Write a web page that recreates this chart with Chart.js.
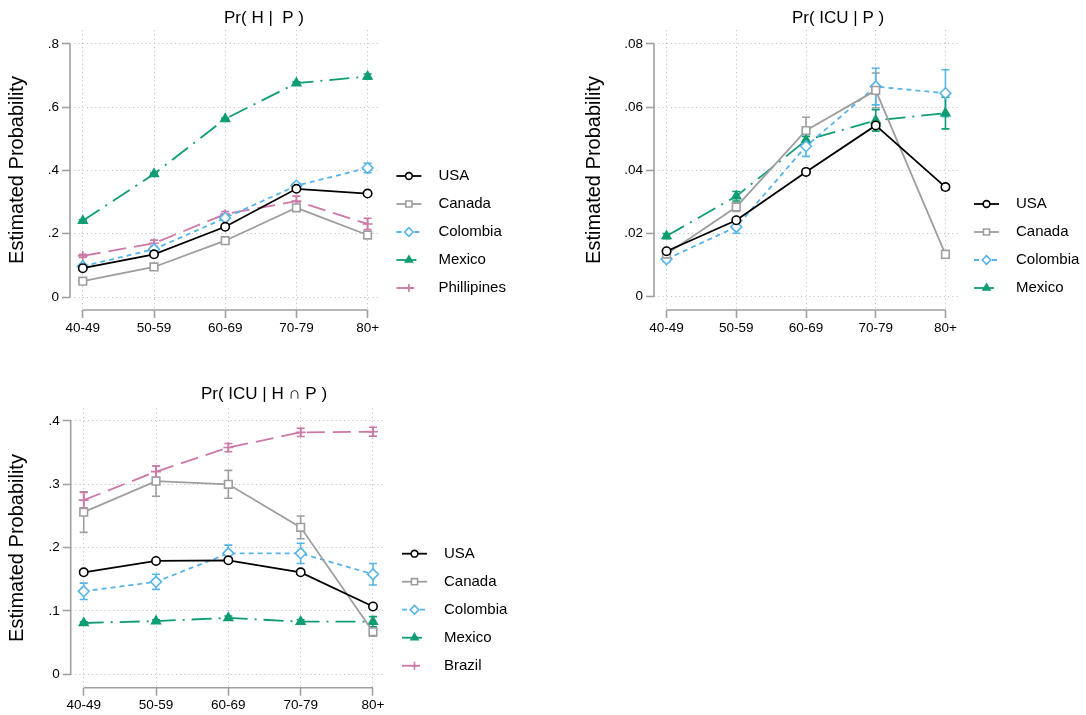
<!DOCTYPE html>
<html>
<head>
<meta charset="utf-8">
<script src="https://cdn.jsdelivr.net/npm/chart.js@4.4.1/dist/chart.umd.min.js"></script>
<style>
  html, body { margin: 0; padding: 0; background: #fff; overflow: hidden; width: 1086px; height: 715px; }
  .panel { position: absolute; }
</style>
</head>
<body>
<div class="panel" style="left:0;top:0;width:528px;height:345px"><canvas id="hpChart"></canvas></div>
<div class="panel" style="left:577px;top:0;width:522px;height:345px"><canvas id="icupChart"></canvas></div>
<div class="panel" style="left:0;top:378px;width:528px;height:337px"><canvas id="icuhpChart"></canvas></div>
<script>
const ageGroups = ['40-49', '50-59', '60-69', '70-79', '80+'];

// Pr( H | P )
const hpUSA = [0.091, 0.135, 0.222, 0.342, 0.327];
const hpUSAci = [0.003, 0.003, 0.004, 0.005, 0.005];
const hpCanada = [0.050, 0.095, 0.178, 0.282, 0.196];
const hpCanadaCi = [0.004, 0.005, 0.006, 0.008, 0.010];
const hpColombia = [0.097, 0.151, 0.250, 0.352, 0.408];
const hpColombiaCi = [0.004, 0.005, 0.008, 0.008, 0.015];
const hpMexico = [0.241, 0.389, 0.563, 0.676, 0.697];
const hpMexicoCi = [0.003, 0.003, 0.003, 0.004, 0.008];
const hpPhilippines = [0.130, 0.170, 0.262, 0.303, 0.231];
const hpPhilippinesCi = [0.005, 0.010, 0.008, 0.016, 0.018];
const hpTicks = [0, 0.2, 0.4, 0.6, 0.8];

// Pr( ICU | P )
const ipUSA = [0.0144, 0.0242, 0.0395, 0.0542, 0.0347];
const ipUSAci = [0.0005, 0.0006, 0.0006, 0.0009, 0.0008];
const ipCanada = [0.0135, 0.0284, 0.0526, 0.0653, 0.0134];
const ipCanadaCi = [0.0008, 0.0014, 0.0042, 0.0055, 0.0012];
const ipColombia = [0.0119, 0.0221, 0.0476, 0.0665, 0.0644];
const ipColombiaCi = [0.0008, 0.0020, 0.0032, 0.0058, 0.0074];
const ipMexico = [0.0192, 0.0318, 0.0495, 0.0558, 0.0581];
const ipMexicoCi = [0.0008, 0.0015, 0.0012, 0.0034, 0.0050];
const ipTicks = [0, 0.02, 0.04, 0.06, 0.08];

// Pr( ICU | H n P )
const ihUSA = [0.161, 0.179, 0.180, 0.161, 0.107];
const ihUSAci = [0.003, 0.003, 0.003, 0.003, 0.004];
const ihCanada = [0.256, 0.305, 0.300, 0.232, 0.067];
const ihCanadaCi = [0.032, 0.024, 0.022, 0.018, 0.007];
const ihColombia = [0.131, 0.146, 0.191, 0.191, 0.158];
const ihColombiaCi = [0.013, 0.012, 0.013, 0.016, 0.017];
const ihMexico = [0.081, 0.084, 0.089, 0.083, 0.083];
const ihMexicoCi = [0.002, 0.002, 0.003, 0.003, 0.008];
const ihBrazil = [0.275, 0.320, 0.358, 0.382, 0.383];
const ihBrazilCi = [0.012, 0.009, 0.0065, 0.0065, 0.007];
const ihTicks = [0, 0.1, 0.2, 0.3, 0.4];

Chart.defaults.font.family = '"Liberation Sans", Arial, Helvetica, sans-serif';
Chart.defaults.color = '#000';

const looks = {
  usa: { borderColor: '#000', pointBorderColor: '#000', pointBackgroundColor: '#fff', pointStyle: 'circle', pointRadius: 4.2, borderDash: [] },
  canada: { borderColor: '#9e9e9e', pointBorderColor: '#9e9e9e', pointBackgroundColor: '#fff', pointStyle: 'rect', pointRadius: 5.4, borderDash: [] },
  colombia: { borderColor: '#56b4e9', pointBorderColor: '#56b4e9', pointBackgroundColor: '#fff', pointStyle: 'rectRot', pointRadius: 5.4, borderDash: [5, 4] },
  mexico: { borderColor: '#0f9d74', pointBorderColor: '#0f9d74', pointBackgroundColor: '#0f9d74', pointStyle: 'triangle', pointRadius: 5, borderDash: [20, 7, 2, 7] },
  pink: { borderColor: '#cc79a7', pointBorderColor: '#cc79a7', pointBackgroundColor: '#cc79a7', pointStyle: 'cross', pointRadius: 5, borderDash: [18, 8] }
};

function series(label, values, ci, look) {
  return Object.assign({
    label: label,
    data: values.map((v, i) => ({ x: i, y: v })),
    ci: ci,
    borderWidth: 1.8,
    pointBorderWidth: 1.6,
    fill: false,
    tension: 0,
    clip: false
  }, look);
}

// stata-like bits: axis lines over the tick range only, capped CIs, legend at the bottom right
const stataExtras = {
  id: 'stataExtras',
  beforeDatasetsDraw(chart) {
    const { ctx, chartArea: a, scales: { x, y } } = chart;
    ctx.save();
    ctx.setLineDash([]);
    ctx.strokeStyle = '#a0a0a0';
    ctx.lineWidth = 1.6;
    const yt = y.ticks;
    ctx.beginPath();
    ctx.moveTo(a.left, y.getPixelForValue(yt[0].value));
    ctx.lineTo(a.left, y.getPixelForValue(yt[yt.length - 1].value));
    ctx.moveTo(x.getPixelForValue(0), a.bottom);
    ctx.lineTo(x.getPixelForValue(ageGroups.length - 1), a.bottom);
    ctx.stroke();

    chart.data.datasets.forEach(ds => {
      ctx.strokeStyle = ds.borderColor;
      ctx.lineWidth = 1.6;
      ds.data.forEach((p, i) => {
        const px = x.getPixelForValue(p.x);
        const top = y.getPixelForValue(p.y + ds.ci[i]);
        const bot = y.getPixelForValue(p.y - ds.ci[i]);
        ctx.beginPath();
        ctx.moveTo(px, top); ctx.lineTo(px, bot);
        ctx.moveTo(px - 4, top); ctx.lineTo(px + 4, top);
        ctx.moveTo(px - 4, bot); ctx.lineTo(px + 4, bot);
        ctx.stroke();
      });
    });
    ctx.restore();
  },
  afterDraw(chart) {
    const { ctx, chartArea: a } = chart;
    const sets = chart.data.datasets;
    const n = sets.length;
    ctx.save();
    sets.forEach((ds, i) => {
      const yy = a.bottom - 22 - (n - 1 - i) * 28;
      const x0 = a.right + 16;
      ctx.strokeStyle = ds.borderColor;
      ctx.lineWidth = 1.8;
      ctx.setLineDash(ds.borderDash);
      ctx.beginPath();
      ctx.moveTo(x0, yy);
      ctx.lineTo(x0 + 25, yy);
      ctx.stroke();
      ctx.setLineDash([]);
      ctx.strokeStyle = ds.pointBorderColor;
      ctx.fillStyle = ds.pointBackgroundColor;
      ctx.lineWidth = ds.pointBorderWidth;
      Chart.helpers.drawPoint(ctx, {
        pointStyle: ds.pointStyle, radius: ds.pointRadius * 0.8, rotation: 0, borderWidth: ds.pointBorderWidth
      }, x0 + 12.5, yy);
      ctx.fillStyle = '#000';
      ctx.font = '15px "Liberation Sans", Arial, sans-serif';
      ctx.textBaseline = 'middle';
      ctx.textAlign = 'left';
      ctx.fillText(ds.label, a.right + 58, yy);
    });
    ctx.restore();
  }
};

function makeChart(id, title, titlePad, datasets, yMin, yMax, yTicks, yWidth, xHeight, xPad, legendWidth) {
  const gridOpts = { color: '#c4c4c4', lineWidth: 1, tickLength: 8, tickColor: '#a0a0a0', tickWidth: 1.6, tickBorderDash: [] };
  const borderOpts = { display: false, dash: [1.2, 3] };
  return new Chart(document.getElementById(id), {
    type: 'line',
    data: { datasets: datasets },
    plugins: [stataExtras],
    options: {
      responsive: true,
      maintainAspectRatio: false,
      animation: false,
      layout: { padding: 0 },
      plugins: {
        legend: { display: false },
        tooltip: { enabled: false },
        title: { display: true, text: title, font: { size: 17, weight: 'normal' }, color: '#000', padding: titlePad }
      },
      scales: {
        x: {
          type: 'linear', min: -0.18, max: 4.18,
          afterBuildTicks: s => { s.ticks = ageGroups.map((_, i) => ({ value: i })); },
          afterFit: s => { s.height = xHeight; },
          ticks: { callback: v => ageGroups[v], font: { size: 13.5 }, color: '#000', padding: xPad, maxRotation: 0, autoSkip: false },
          grid: gridOpts,
          border: borderOpts
        },
        y: {
          min: yMin, max: yMax,
          afterBuildTicks: s => { s.ticks = yTicks.map(v => ({ value: v })); },
          afterFit: s => { s.width = yWidth; },
          ticks: { callback: v => String(v).replace(/^0\./, '.'), font: { size: 13.5 }, color: '#000', padding: 3 },
          title: { display: true, text: 'Estimated Probability', font: { size: 20 }, color: '#000', padding: { top: 5, bottom: 0 } },
          grid: gridOpts,
          border: borderOpts
        },
        // empty right-hand axis that only reserves room for the legend, so the title stays centred on the panel
        legendRoom: {
          type: 'linear', position: 'right', display: true,
          afterFit: s => { s.width = legendWidth; },
          ticks: { display: false },
          grid: { display: false, drawTicks: false },
          border: { display: false }
        }
      }
    }
  });
}

makeChart('hpChart', 'Pr( H |  P )', { top: 8, bottom: 1.6 }, [
  series('USA', hpUSA, hpUSAci, looks.usa),
  series('Canada', hpCanada, hpCanadaCi, looks.canada),
  series('Colombia', hpColombia, hpColombiaCi, looks.colombia),
  series('Mexico', hpMexico, hpMexicoCi, looks.mexico),
  series('Phillipines', hpPhilippines, hpPhilippinesCi, looks.pink)
], -0.041, 0.844, hpTicks, 70, 35, 2.2, 147.6);

makeChart('icupChart', 'Pr( ICU | P )', { top: 8, bottom: 1.6 }, [
  series('USA', ipUSA, ipUSAci, looks.usa),
  series('Canada', ipCanada, ipCanadaCi, looks.canada),
  series('Colombia', ipColombia, ipColombiaCi, looks.colombia),
  series('Mexico', ipMexico, ipMexicoCi, looks.mexico)
], -0.0042, 0.0844, ipTicks, 77, 35, 2.2, 141);

makeChart('icuhpChart', 'Pr( ICU | H ∩ P )', { top: 5.8, bottom: 4.1 }, [
  series('USA', ihUSA, ihUSAci, looks.usa),
  series('Canada', ihCanada, ihCanadaCi, looks.canada),
  series('Colombia', ihColombia, ihColombiaCi, looks.colombia),
  series('Mexico', ihMexico, ihMexicoCi, looks.mexico),
  series('Brazil', ihBrazil, ihBrazilCi, looks.pink)
], -0.0212, 0.42, ihTicks, 70.7, 27.3, 1.5, 142);
</script>
</body>
</html>
